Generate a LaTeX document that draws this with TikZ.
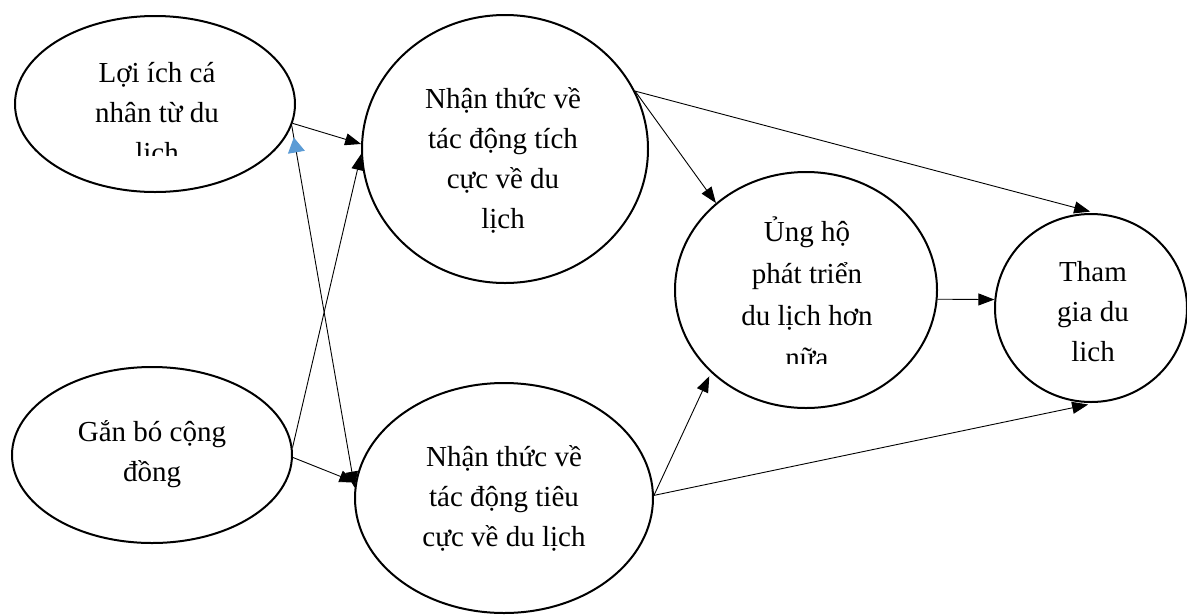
\documentclass[tikz,border=0pt]{standalone}
\usepackage{fontspec}
\setmainfont{Liberation Serif}
\usepackage{tikz}
\usetikzlibrary{shapes.geometric,arrows.meta,decorations.markings}
\pgfdeclarelayer{edgelayer}
\pgfdeclarelayer{nodelayer}
\pgfsetlayers{edgelayer,nodelayer,main}
\definecolor{hexcolor0x5b9bd5}{rgb}{0.357,0.608,0.835}
\definecolor{myblack}{rgb}{0.000,0.000,0.000}
\definecolor{mywhite}{rgb}{1.000,1.000,1.000}
\tikzstyle{factor}=[ellipse,fill=mywhite,draw=myblack,line width=2pt,inner sep=0pt]
\tikzstyle{factortext}=[align=center,inner sep=0pt,font=\fontsize{29}{40}\selectfont]
\tikzstyle{link}=[draw=myblack,line width=0.9pt,-{Triangle[length=16pt,width=12pt]}]
\tikzstyle{bluetip}=[postaction={decorate},decoration={markings,mark=at position 12pt with {\arrowreversed{Triangle[length=15pt,width=17pt,color=hexcolor0x5b9bd5]}}}]

\begin{document}
\begin{tikzpicture}[x=1pt,y=-1pt]
	\useasboundingbox (0,0) rectangle (1187,614);
	\begin{pgfonlayer}{nodelayer}
		\node [style=factor,minimum width=280pt,minimum height=176pt] (0) at (155, 104) {};
		\node [style=factor,minimum width=280pt,minimum height=176pt] (1) at (152, 455) {};
		\node [style=factor,minimum width=286pt,minimum height=268pt] (2) at (505, 149) {};
		\node [style=factor,minimum width=298pt,minimum height=230pt] (3) at (504, 498) {};
		\node [style=factor,minimum width=262pt,minimum height=236pt] (4) at (806, 290) {};
		\node [style=factor,minimum width=192pt,minimum height=188pt] (5) at (1091, 308) {};
	\end{pgfonlayer}

	% texts (two of them cut off by their boxes)
	\begin{scope}
		\clip (20,20) rectangle (290,155);
		\node [style=factortext] (6) at (157, 114.5) {Lợi ích cá\\nhân từ du\\lịch};
	\end{scope}
	\node [style=factortext] (7) at (152, 454) {Gắn bó cộng\\đồng};
	\node [style=factortext] (8) at (503, 160.5) {Nhận thức về\\tác động tích\\cực về du\\lịch};
	\node [style=factortext] (9) at (504, 498.5) {Nhận thức về\\tác động tiêu\\cực về du lịch};
	\begin{scope}
		\clip (680,175) rectangle (930,363);
		\node [style=factortext,font=\fontsize{29}{42}\selectfont] (10) at (807, 292) {Ủng hộ\\phát triển\\du lịch hơn\\nữa};
	\end{scope}
	\node [style=factortext] (11) at (1093, 312) {Tham\\gia du\\lich};

	\begin{pgfonlayer}{edgelayer}
		\draw [style=link] (0.-8) -- (2.178);
		\draw [style=link] (1.3) -- (2.182);
		\draw [style=link,style=bluetip] (0.-9) -- (3.176);
		\draw [style=link] (1.-1) -- (3.174);
		\draw [style=link] (2.24) -- (4.136);
		\draw [style=link,shorten >=6pt] (2.24) -- (5.87);
		\draw [style=link,shorten >=4pt] (3.1) -- (4.221);
		\draw [style=link,shorten >=8pt] (3.1) -- (5.-87);
		\draw [style=link] (4.-4) -- (5.175);
	\end{pgfonlayer}
\end{tikzpicture}
\end{document}
